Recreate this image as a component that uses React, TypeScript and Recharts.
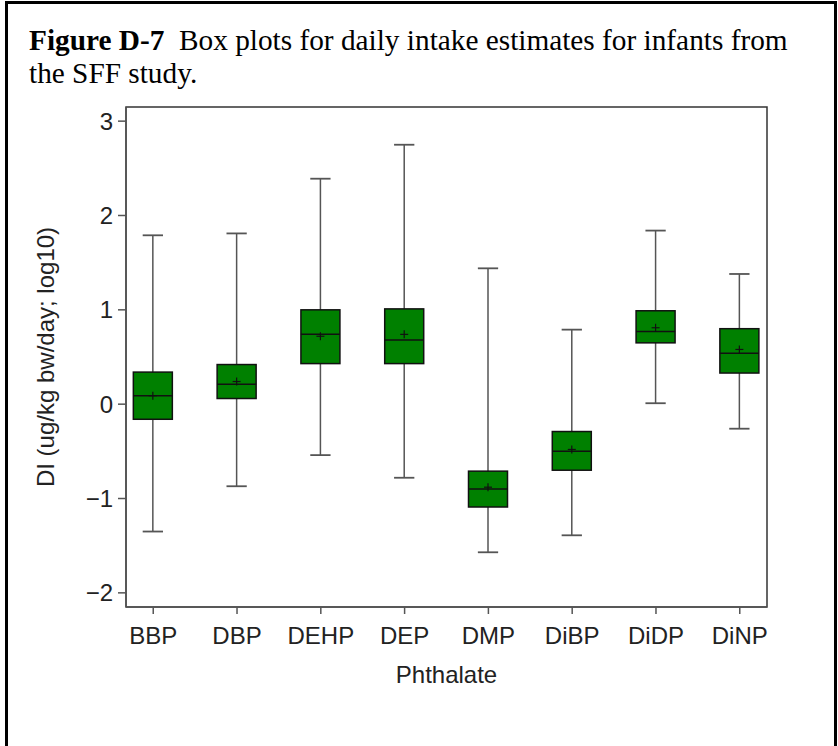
import { Bar, ComposedChart, ReferenceArea, XAxis, YAxis } from "recharts";

const CATEGORIES = ["BBP", "DBP", "DEHP", "DEP", "DMP", "DiBP", "DiDP", "DiNP"];
const WHISKER_LOW = [-1.35, -0.87, -0.54, -0.78, -1.57, -1.39, 0.01, -0.26];
const Q1 = [-0.16, 0.06, 0.43, 0.43, -1.09, -0.7, 0.65, 0.33];
const MEDIAN = [0.09, 0.21, 0.74, 0.68, -0.9, -0.5, 0.77, 0.54];
const MEAN = [0.09, 0.24, 0.72, 0.74, -0.88, -0.48, 0.81, 0.58];
const Q3 = [0.34, 0.42, 1.0, 1.01, -0.71, -0.29, 0.99, 0.8];
const WHISKER_HIGH = [1.79, 1.81, 2.39, 2.75, 1.44, 0.79, 1.84, 1.38];
const Y_TICKS = [-2, -1, 0, 1, 2, 3];
const X_TICKS = [1, 2, 3, 4, 5, 6, 7, 8];

const Y_MIN = -2.15;
const Y_MAX = 3.15;
const BOX_FILL = "#008000";
const AXIS_GRAY = "#555";
const SANS = "'Liberation Sans', Arial, Helvetica, sans-serif";
const FONT_SIZE = 24;

type BoxRow = {
  pos: number;
  name: string;
  min: number;
  q1: number;
  median: number;
  mean: number;
  q3: number;
  max: number;
};

const rows: BoxRow[] = CATEGORIES.map((name, i) => ({
  pos: i + 1,
  name,
  min: WHISKER_LOW[i],
  q1: Q1[i],
  median: MEDIAN[i],
  mean: MEAN[i],
  q3: Q3[i],
  max: WHISKER_HIGH[i],
}));

function fmtTick(v: number): string {
  return v < 0 ? `\u2212${-v}` : `${v}`;
}

// the bar spans min..max, every other level is placed along that same span
function BoxShape(props: any) {
  const { x, y, width, height, payload } = props;
  if (payload == null || !Number.isFinite(height)) return null;
  const top = Math.min(y, y + height);
  const span = Math.abs(height);
  const range = payload.max - payload.min;
  const toY = (v: number) => top + ((payload.max - v) / range) * span;
  const cx = x + width / 2;
  const cap = width * 0.26;
  const yQ3 = toY(payload.q3);
  const yQ1 = toY(payload.q1);
  const yMed = toY(payload.median);
  const yMean = toY(payload.mean);
  return (
    <g>
      <line x1={cx} x2={cx} y1={toY(payload.max)} y2={toY(payload.min)} stroke={AXIS_GRAY} strokeWidth={1.5} />
      <line x1={cx - cap} x2={cx + cap} y1={toY(payload.max)} y2={toY(payload.max)} stroke={AXIS_GRAY} strokeWidth={1.8} />
      <line x1={cx - cap} x2={cx + cap} y1={toY(payload.min)} y2={toY(payload.min)} stroke={AXIS_GRAY} strokeWidth={1.8} />
      <rect x={x} y={yQ3} width={width} height={yQ1 - yQ3} fill={BOX_FILL} stroke="#111" strokeWidth={1.5} />
      <line x1={x} x2={x + width} y1={yMed} y2={yMed} stroke="#111" strokeWidth={1.5} />
      <line x1={cx - 4} x2={cx + 4} y1={yMean} y2={yMean} stroke="#111" strokeWidth={1.2} />
      <line x1={cx} x2={cx} y1={yMean - 4} y2={yMean + 4} stroke="#111" strokeWidth={1.2} />
    </g>
  );
}

export default function App() {
  return (
    <div style={{ position: "absolute", left: 0, top: 0, width: 838, height: 746, background: "#fff", overflow: "hidden" }}>
      <div
        style={{
          position: "absolute",
          left: 5,
          top: 1,
          width: 826,
          height: 760,
          border: "3px solid #000",
        }}
      />
      <div
        style={{
          position: "absolute",
          left: 29,
          top: 24,
          fontFamily: "'Liberation Serif', 'Times New Roman', serif",
          fontSize: 29.3,
          lineHeight: "33px",
          color: "#000",
          whiteSpace: "pre",
        }}
      >
        <b>Figure D-7</b>
        {"  Box plots for daily intake estimates for infants from"}
        <br />
        {"the SFF study."}
      </div>
      <div style={{ position: "absolute", left: 0, top: 0 }}>
        <ComposedChart
          width={838}
          height={746}
          data={rows}
          margin={{ top: 107, right: 71, bottom: 59, left: 20 }}
        >
          <XAxis
            dataKey="pos"
            type="number"
            domain={[0.675, 8.325]}
            ticks={X_TICKS}
            interval={0}
            tickFormatter={(v: number) => CATEGORIES[v - 1] ?? ""}
            height={80}
            tickSize={7}
            tickMargin={13}
            tick={{ fontSize: FONT_SIZE, fill: "#222", fontFamily: SANS }}
            axisLine={{ stroke: AXIS_GRAY, strokeWidth: 1.5 }}
            tickLine={{ stroke: AXIS_GRAY, strokeWidth: 1.5 }}
            label={{
              value: "Phthalate",
              position: "insideBottom",
              offset: 4,
              style: { fontSize: FONT_SIZE, fill: "#222", fontFamily: SANS },
            }}
          />
          <YAxis
            type="number"
            domain={[Y_MIN, Y_MAX]}
            ticks={Y_TICKS}
            interval={0}
            width={106}
            tickSize={8}
            tickMargin={5}
            tickFormatter={fmtTick}
            tick={{ fontSize: FONT_SIZE, fill: "#222", fontFamily: SANS }}
            axisLine={{ stroke: AXIS_GRAY, strokeWidth: 1.5 }}
            tickLine={{ stroke: AXIS_GRAY, strokeWidth: 1.5 }}
            label={{
              value: "DI (ug/kg bw/day; log10)",
              angle: -90,
              position: "insideLeft",
              offset: 25,
              style: { textAnchor: "middle", fontSize: FONT_SIZE, fill: "#222", fontFamily: SANS },
            }}
          />
          <ReferenceArea y1={Y_MIN} y2={Y_MAX} fill="none" fillOpacity={0} stroke="#333" strokeWidth={1.5} />
          <Bar
            dataKey={(d: BoxRow) => [d.min, d.max]}
            barSize={39}
            isAnimationActive={false}
            shape={(p: any) => <BoxShape {...p} />}
          />
        </ComposedChart>
      </div>
    </div>
  );
}
